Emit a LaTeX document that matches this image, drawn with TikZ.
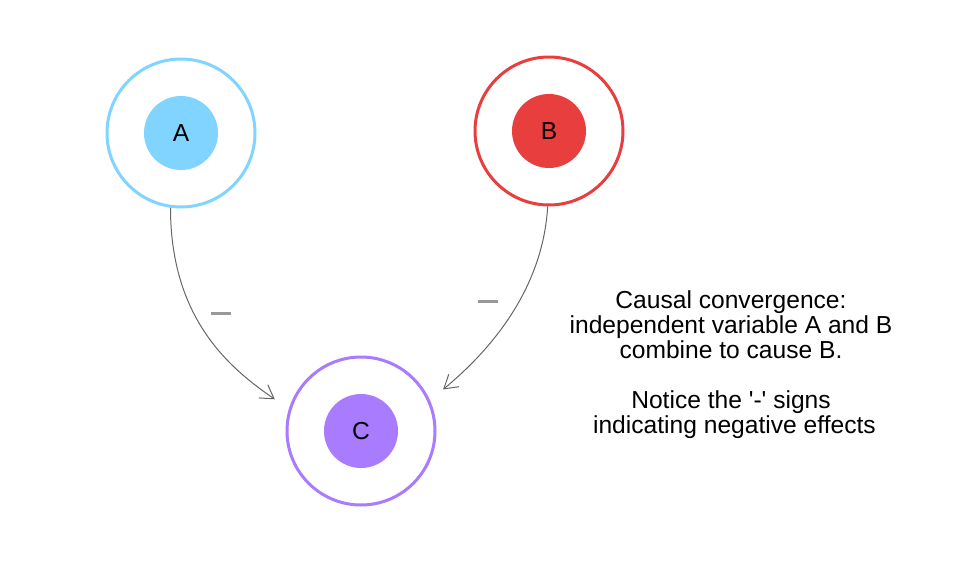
\documentclass[tikz,border=0pt]{standalone}
\usepackage{fontspec}
\setmainfont{Liberation Sans}
\usepackage{tikz}
\usetikzlibrary{arrows.meta,positioning,calc}

\definecolor{varA}{RGB}{128,212,255}
\definecolor{varB}{RGB}{232,62,62}
\definecolor{varC}{RGB}{168,123,255}
\definecolor{linkgray}{RGB}{102,102,102}
\definecolor{signgray}{RGB}{153,153,153}

\begin{document}
\begin{tikzpicture}[
  x=0.5pt, y=-0.5pt,
  font=\fontsize{12.3}{12.5}\selectfont,
  ring/.style={circle, draw=#1, line width=1.5pt, fill=white, minimum size=74pt, inner sep=0pt},
  core/.style={circle, fill=#1, minimum size=37pt, inner sep=0pt},
  link/.style={draw=linkgray, line width=0.5pt, -{Straight Barb[length=6.5pt,width=8pt,line width=0.5pt]}, shorten >=8.5pt},
  minus/.style={rectangle, fill=signgray, minimum width=10pt, minimum height=1.5pt, inner sep=0pt}
]

\useasboundingbox (0,0) rectangle (954,562);

% outer rings, then the filled cores
\node[ring=varA] (A) at (181,133) {};
\node[ring=varB] (B) at (549,131) {};
\node[ring=varC] (C) at (361,431) {};
\node[core=varA] (coreA) at (A) {A};
\node[core=varB] (coreB) at (B) {B};
\node[core=varC] (coreC) at (C) {C};

% causal links
\draw[link] (A.-98) .. controls +(0,112) and +(-58,-40) .. (C.163);
\draw[link] (B.-91) .. controls +(-5,85) and +(58,-48) .. (C.24);

\node[minus] (minusA) at (221,313) {};
\node[minus] (minusB) at (488,301) {};

\node[align=center] (note) at (731,365) {Causal convergence:\\
  independent variable A and B\\
  combine to cause B.\\[12.5pt]
  Notice the \textquotesingle-\textquotesingle{} signs\\
  \mbox{} indicating negative effects};

\end{tikzpicture}
\end{document}
